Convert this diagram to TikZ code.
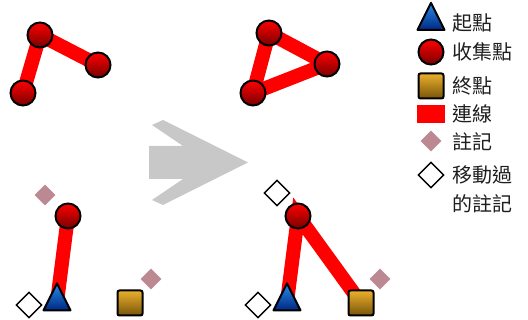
\documentclass[tikz,border=0pt]{standalone}
\usepackage{fontspec}
\newfontfamily\cjk{Noto Sans CJK TC}
\usetikzlibrary{shapes.geometric,backgrounds}
\definecolor{linkred}{RGB}{255,0,0}
\definecolor{darkred}{RGB}{120,0,0}
\definecolor{bluetop}{RGB}{40,140,235}
\definecolor{bluebot}{RGB}{0,40,130}
\definecolor{goldtop}{RGB}{235,175,45}
\definecolor{goldbot}{RGB}{120,85,10}
\definecolor{notepink}{RGB}{188,136,146}
\definecolor{arrowgray}{RGB}{200,200,200}
\definecolor{txt}{RGB}{30,30,30}
\begin{document}
\begin{tikzpicture}[x=1pt,y=-1pt,
  collect/.style={circle, draw=black, line width=2pt, minimum size=25pt, inner sep=0pt,
    top color=linkred, middle color=linkred, bottom color=darkred},
  startpt/.style={isosceles triangle, isosceles triangle stretches, shape border rotate=90,
    minimum width=27pt, minimum height=27pt, inner sep=0pt, draw=black, line width=2pt,
    line join=round, top color=bluetop, bottom color=bluebot},
  endpt/.style={rectangle, rounded corners=2pt, draw=black, line width=2pt,
    minimum size=25pt, inner sep=0pt, top color=goldtop, bottom color=goldbot},
  note/.style={diamond, minimum size=21pt, inner sep=0pt, fill=notepink},
  movednote/.style={diamond, minimum size=26pt, inner sep=0pt, draw=black, line width=1.4pt, fill=white},
  link/.style={draw=linkred, line width=14pt},
  legtext/.style={anchor=west, inner sep=0pt, text=txt, font=\cjk\fontsize{20}{22}\selectfont}
]
\useasboundingbox (0,0) rectangle (528,320);

% big arrow
\fill[arrowgray] (149,146) -- (183,146) -- (152,125) -- (163,120) -- (248,162.5)
  -- (163,205) -- (152,200) -- (183,179) -- (149,179) -- cycle;

% top-left
\node[collect] (a1) at (40,35) {};
\node[collect] (a2) at (98,65) {};
\node[collect] (a3) at (23,93) {};
% top-right
\node[collect] (b1) at (269,33) {};
\node[collect] (b2) at (327,64) {};
\node[collect] (b3) at (253,93) {};
% bottom-left
\node[note] (c5) at (45,195) {};
\node[collect] (c1) at (68,216) {};
\node[startpt] (c2) at (57,302) {};
\node[endpt] (c3) at (130,303) {};
\node[movednote] (c4) at (29,305) {};
\node[note] (c6) at (151,279) {};
% bottom-right
\node[movednote] (d5) at (277,193) {};
\node[collect] (d1) at (298,216) {};
\node[startpt] (d2) at (287,302) {};
\node[endpt] (d3) at (361,303) {};
\node[movednote] (d4) at (258,305) {};
\node[note] (d6) at (380,279) {};

\begin{scope}[on background layer]
  \draw[link] (a3.center) -- (a1.center) -- (a2.center);
  \draw[link, line join=round] (b3.center) -- (b1.center) -- (b2.center) -- cycle;
  \draw[link] (c1.center) -- (c2.center);
  \draw[link] (d2.center) -- (d1.center) -- (d3.center);
\end{scope}

% legend
\node[startpt] (l1) at (431,21.5) {};
\node[collect] (l2) at (431,52) {};
\node[endpt] (l3) at (431,86) {};
\node[rectangle, fill=linkred, minimum width=28pt, minimum height=18pt, inner sep=0pt] (l4) at (431,114) {};
\node[note] (l5) at (431,141) {};
\node[movednote] (l6) at (431,175) {};
\node[legtext] (t1) at (452,23) {起點};
\node[legtext] (t2) at (452,52) {收集點};
\node[legtext] (t3) at (452,86) {終點};
\node[legtext] (t4) at (452,114) {連線};
\node[legtext] (t5) at (452,142) {註記};
\node[legtext] (t6) at (452,175) {移動過};
\node[legtext] (t7) at (452,204) {的註記};
\end{tikzpicture}
\end{document}
